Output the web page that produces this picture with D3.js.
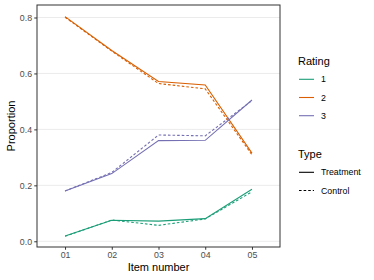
<!doctype html>
<html>
<head>
<meta charset="utf-8">
<title>Proportion by item</title>
<script src="https://cdn.jsdelivr.net/npm/d3@7/dist/d3.min.js"></script>
<style>
    body { margin: 0; background: white; }
    text { font-family: "Liberation Sans", Arial, sans-serif; }
    .tick-label { font-size: 8.8px; fill: #4d4d4d; }
    .axis-title { font-size: 11px; fill: black; }
    .legend-title { font-size: 11px; fill: black; }
    .legend-label { font-size: 8.8px; fill: black; }
</style>
</head>
<body>
<script>
    const items = ["01", "02", "03", "04", "05"];
    const ratings = ["1", "2", "3"];
    const types = ["Treatment", "Control"];
    const yTicks = [0, 0.2, 0.4, 0.6, 0.8];

    // proportions per rating, one array per type
    const treatment1 = [0.019, 0.075, 0.072, 0.081, 0.186];
    const control1   = [0.018, 0.076, 0.057, 0.080, 0.177];
    const treatment2 = [0.803, 0.682, 0.571, 0.559, 0.315];
    const control2   = [0.801, 0.680, 0.564, 0.545, 0.309];
    const treatment3 = [0.180, 0.242, 0.360, 0.361, 0.505];
    const control3   = [0.180, 0.246, 0.380, 0.377, 0.503];

    const series = [
        {rating: "1", type: "Treatment", values: treatment1},
        {rating: "1", type: "Control", values: control1},
        {rating: "2", type: "Treatment", values: treatment2},
        {rating: "2", type: "Control", values: control2},
        {rating: "3", type: "Treatment", values: treatment3},
        {rating: "3", type: "Control", values: control3}
    ];

    const width = 374, height = 280;
    const panel = {left: 37, right: 280, top: 5, bottom: 247};

    const svg = d3.select("body").append("svg")
        .attr("width", width)
        .attr("height", height);

    const x = d3.scalePoint()
        .domain(items)
        .range([panel.left, panel.right])
        .padding(0.6);
    const y = d3.scaleLinear()
        .domain([-0.0204, 0.8447])
        .range([panel.bottom, panel.top]);
    const colour = d3.scaleOrdinal()
        .domain(ratings)
        .range(["#1b9e77", "#d95f02", "#7570b3"]);
    const dash = d3.scaleOrdinal()
        .domain(types)
        .range(["none", "2.6,2"]);

    // grid
    svg.append("g")
        .selectAll("line")
        .data(yTicks)
        .join("line")
        .attr("x1", panel.left)
        .attr("x2", panel.right)
        .attr("y1", d => y(d))
        .attr("y2", d => y(d))
        .attr("stroke", "#ebebeb")
        .attr("stroke-width", 1);

    // lines
    const line = d3.line()
        .x((d, i) => x(items[i]))
        .y(d => y(d));
    svg.append("g")
        .selectAll("path")
        .data(series)
        .join("path")
        .attr("d", d => line(d.values))
        .attr("fill", "none")
        .attr("stroke", d => colour(d.rating))
        .attr("stroke-width", 1.1)
        .attr("stroke-dasharray", d => dash(d.type));

    // panel border
    svg.append("rect")
        .attr("x", panel.left)
        .attr("y", panel.top)
        .attr("width", panel.right - panel.left)
        .attr("height", panel.bottom - panel.top)
        .attr("fill", "none")
        .attr("stroke", "#333333")
        .attr("stroke-width", 1);

    // axes
    const yAxis = svg.append("g")
        .attr("transform", `translate(${panel.left},0)`)
        .call(d3.axisLeft(y).tickValues(yTicks).tickFormat(d3.format(".1f"))
            .tickSize(2.75).tickPadding(2.2));
    const xAxis = svg.append("g")
        .attr("transform", `translate(0,${panel.bottom})`)
        .call(d3.axisBottom(x).tickSize(2.75).tickPadding(2.5));
    for (const ax of [xAxis, yAxis]) {
        ax.select(".domain").remove();
        ax.selectAll(".tick line").attr("stroke", "#333333");
        ax.selectAll(".tick text")
            .attr("class", "tick-label")
            .attr("font-family", null)
            .attr("font-size", null)
            .attr("fill", null);
    }
    yAxis.selectAll(".tick text").attr("dy", "0.35em");
    xAxis.selectAll(".tick text").attr("dy", "0.71em");

    svg.append("text")
        .attr("class", "axis-title")
        .attr("x", (panel.left + panel.right) / 2)
        .attr("y", 271)
        .attr("text-anchor", "middle")
        .text("Item number");
    svg.append("text")
        .attr("class", "axis-title")
        .attr("transform", `translate(14.7,${(panel.top + panel.bottom) / 2}) rotate(-90)`)
        .attr("text-anchor", "middle")
        .text("Proportion");

    // legends
    const keyX = 299, keyW = 15, labelX = 321;
    const rating = svg.append("g");
    rating.append("text")
        .attr("class", "legend-title")
        .attr("x", 298)
        .attr("y", 64.5)
        .text("Rating");
    const rKeys = rating.selectAll("g")
        .data(ratings)
        .join("g")
        .attr("transform", (d, i) => `translate(0,${79.3 + i * 18.2})`);
    rKeys.append("line")
        .attr("x1", keyX).attr("x2", keyX + keyW)
        .attr("stroke", d => colour(d))
        .attr("stroke-width", 1.1);
    rKeys.append("text")
        .attr("class", "legend-label")
        .attr("x", labelX)
        .attr("dy", "0.35em")
        .text(d => d);

    const type = svg.append("g");
    type.append("text")
        .attr("class", "legend-title")
        .attr("x", 298)
        .attr("y", 157.5)
        .text("Type");
    const tKeys = type.selectAll("g")
        .data(types)
        .join("g")
        .attr("transform", (d, i) => `translate(0,${172.3 + i * 18.2})`);
    tKeys.append("line")
        .attr("x1", keyX).attr("x2", keyX + keyW)
        .attr("stroke", "black")
        .attr("stroke-width", 1.1)
        .attr("stroke-dasharray", d => dash(d));
    tKeys.append("text")
        .attr("class", "legend-label")
        .attr("x", labelX)
        .attr("dy", "0.35em")
        .text(d => d);
</script>
</body>
</html>
